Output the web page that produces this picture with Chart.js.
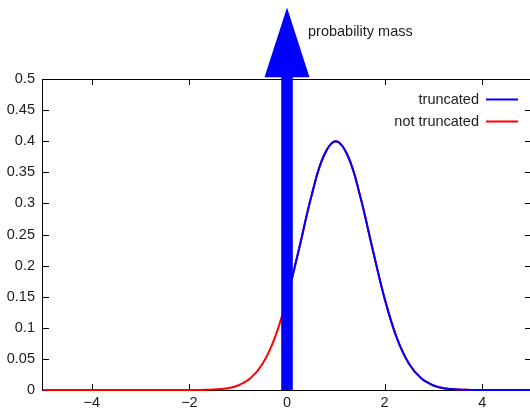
<!DOCTYPE html>
<html>
<head>
<meta charset="utf-8">
<script src="https://cdn.jsdelivr.net/npm/chart.js@4.4.1/dist/chart.umd.min.js"></script>
<style>
html, body { margin: 0; padding: 0; overflow: hidden; background: #fff; }
#wrap { width: 532px; height: 409px; }
</style>
</head>
<body>
<div id="wrap"><canvas id="chart" width="532" height="409"></canvas></div>
<script>
// x positions the curves were read at
const xValues = [-5, -4.75, -4.5, -4.25, -4, -3.75, -3.5, -3.25, -3, -2.75, -2.5, -2.25, -2,
    -1.75, -1.5, -1.25, -1, -0.75, -0.5, -0.25, 0, 0.25, 0.5, 0.75, 1, 1.25, 1.5, 1.75,
    2, 2.25, 2.5, 2.75, 3, 3.25, 3.5, 3.75, 4, 4.25, 4.5, 4.75, 5];

// density (blue curve only exists right of the cut at 0)
const truncatedValues = [null, null, null, null, null, null, null, null, null, null, null, null, null,
    null, null, null, null, null, null, null, 0.1472, 0.2279, 0.3115, 0.3758, 0.4, 0.3758, 0.3115, 0.2279,
    0.1472, 0.0838, 0.0422, 0.0187, 0.0073, 0.0025, 0.0008, 0.0002, 0, 0, 0, 0, 0];
const notTruncatedValues = [0, 0, 0, 0, 0, 0, 0, 0, 0, 0, 0, 0, 0,
    0.0002, 0.0008, 0.0025, 0.0073, 0.0187, 0.0422, 0.0838, 0.1472, 0.2279, 0.3115, 0.3758, 0.4, 0.3758, 0.3115, 0.2279,
    0.1472, 0.0838, 0.0422, 0.0187, 0.0073, 0.0025, 0.0008, 0.0002, 0, 0, 0, 0, 0];

const seriesLabels = ['truncated', 'not truncated'];

const xTickValues = [-4, -2, 0, 2, 4];
const xTickLabels = ['\u22124', '\u22122', '0', '2', '4'];
const yTickValues = [0, 0.05, 0.1, 0.15, 0.2, 0.25, 0.3, 0.35, 0.4, 0.45, 0.5];
const yTickLabels = ['0', '0.05', '0.1', '0.15', '0.2', '0.25', '0.3', '0.35', '0.4', '0.45', '0.5'];

// the point mass at the cut, drawn as an arrow
const massX = 0;
const massTop = 0.615;
const massHeadBase = 0.503;
const massLabel = 'probability mass';

const FONT = { family: '"Liberation Sans", Arial, Helvetica, sans-serif', size: 14.5 };
const TEXT_COLOR = '#1c1c1c';
const TICK_LEN = 6;

const gnuplotFrame = {
    id: 'gnuplotFrame',
    beforeDatasetsDraw(chart) {
        const { ctx, chartArea: a, scales: { x, y } } = chart;
        ctx.save();
        ctx.strokeStyle = '#000';
        ctx.lineWidth = 1;
        ctx.strokeRect(a.left - 0.5, a.top + 0.5, a.right - a.left + 1, a.bottom - a.top);

        // inward ticks on all four sides
        ctx.beginPath();
        xTickValues.forEach(v => {
            const px = Math.round(x.getPixelForValue(v)) + 0.5;
            ctx.moveTo(px, a.bottom);
            ctx.lineTo(px, a.bottom - TICK_LEN);
            ctx.moveTo(px, a.top);
            ctx.lineTo(px, a.top + TICK_LEN);
        });
        yTickValues.forEach(v => {
            const py = Math.round(y.getPixelForValue(v)) + 0.5;
            ctx.moveTo(a.left, py);
            ctx.lineTo(a.left + TICK_LEN, py);
            ctx.moveTo(a.right, py);
            ctx.lineTo(a.right - TICK_LEN, py);
        });
        ctx.stroke();
        ctx.restore();
    },
    afterDatasetsDraw(chart) {
        const { ctx, chartArea: a, scales: { x, y } } = chart;
        ctx.save();

        // arrow for the probability mass
        const cx = x.getPixelForValue(massX);
        const y0 = y.getPixelForValue(0);
        const yTip = y.getPixelForValue(massTop);
        const yBase = y.getPixelForValue(massHeadBase);
        const shaft = 5.8;
        const head = 22.5;
        ctx.fillStyle = '#0000ff';
        ctx.beginPath();
        ctx.moveTo(cx - shaft, y0);
        ctx.lineTo(cx - shaft, yBase);
        ctx.lineTo(cx - head, yBase);
        ctx.lineTo(cx, yTip);
        ctx.lineTo(cx + head, yBase);
        ctx.lineTo(cx + shaft, yBase);
        ctx.lineTo(cx + shaft, y0);
        ctx.closePath();
        ctx.fill();

        ctx.font = `${FONT.size}px ${FONT.family}`;
        ctx.fillStyle = TEXT_COLOR;
        ctx.textBaseline = 'middle';
        ctx.textAlign = 'left';
        ctx.fillText(massLabel, cx + 21, yTip + 24.5);

        // gnuplot-style key: text first, then a line sample
        chart.data.datasets.forEach((ds, i) => {
            const rowY = a.top + 20.5 + i * 22;
            ctx.textAlign = 'right';
            ctx.fillStyle = TEXT_COLOR;
            ctx.fillText(ds.label, a.right - 52, rowY + 0.5);
            ctx.strokeStyle = ds.borderColor;
            ctx.lineWidth = 2;
            ctx.beginPath();
            ctx.moveTo(a.right - 45, rowY);
            ctx.lineTo(a.right - 13, rowY);
            ctx.stroke();
        });
        ctx.restore();
    }
};

new Chart(document.getElementById('chart'), {
    type: 'line',
    data: {
        labels: xValues,
        datasets: [{
            label: seriesLabels[0],
            data: xValues.map((xv, i) => ({ x: xv, y: truncatedValues[i] })),
            borderColor: '#0000ff',
            borderWidth: 2,
            pointRadius: 0,
            tension: 0.4,
            spanGaps: false,
            clip: 4
        }, {
            label: seriesLabels[1],
            data: xValues.map((xv, i) => ({ x: xv, y: notTruncatedValues[i] })),
            borderColor: '#ff0000',
            borderWidth: 2,
            pointRadius: 0,
            tension: 0.4,
            clip: 4
        }]
    },
    options: {
        responsive: false,
        animation: false,
        events: [],
        layout: { padding: { top: 79, right: 1, left: 0, bottom: 0 } },
        plugins: {
            legend: { display: false },
            tooltip: { enabled: false }
        },
        scales: {
            x: {
                type: 'linear',
                min: -5,
                max: 5,
                grid: { display: false, drawTicks: false },
                border: { display: false },
                afterBuildTicks: s => { s.ticks = xTickValues.map(v => ({ value: v })); },
                afterFit: s => { s.height = 19; },
                ticks: {
                    padding: 4,
                    maxRotation: 0,
                    autoSkip: false,
                    color: TEXT_COLOR,
                    font: FONT,
                    callback: (v, i) => xTickLabels[i]
                }
            },
            y: {
                type: 'linear',
                min: 0,
                max: 0.5,
                grid: { display: false, drawTicks: false },
                border: { display: false },
                afterBuildTicks: s => { s.ticks = yTickValues.map(v => ({ value: v })); },
                afterFit: s => { s.width = 43; },
                ticks: {
                    padding: 8,
                    autoSkip: false,
                    color: TEXT_COLOR,
                    font: FONT,
                    callback: (v, i) => yTickLabels[i]
                }
            }
        }
    },
    plugins: [gnuplotFrame]
});
</script>
</body>
</html>
